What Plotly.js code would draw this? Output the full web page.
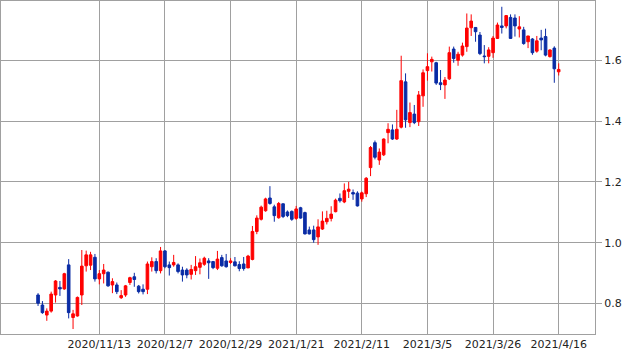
<!DOCTYPE html>
<html>
<head>
<meta charset="utf-8">
<script src="https://cdn.plot.ly/plotly-3.0.1.min.js"></script>
<style>html,body{margin:0;padding:0;background:#fff;}#chart{width:636px;height:355px;}</style>
</head>
<body>
<div id="chart"></div>
<script>
var dates = [
"2020/10/26","2020/10/27","2020/10/28","2020/10/29","2020/10/30",
"2020/11/2","2020/11/3","2020/11/4","2020/11/5","2020/11/6",
"2020/11/9","2020/11/10","2020/11/11","2020/11/12","2020/11/13",
"2020/11/16","2020/11/17","2020/11/18","2020/11/19","2020/11/20",
"2020/11/23","2020/11/24","2020/11/25","2020/11/27","2020/11/30",
"2020/12/1","2020/12/2","2020/12/3","2020/12/4","2020/12/7",
"2020/12/8","2020/12/9","2020/12/10","2020/12/11","2020/12/14",
"2020/12/15","2020/12/16","2020/12/17","2020/12/18","2020/12/21",
"2020/12/22","2020/12/23","2020/12/24","2020/12/28","2020/12/29",
"2020/12/30","2020/12/31","2021/1/4","2021/1/5","2021/1/6",
"2021/1/7","2021/1/8","2021/1/11","2021/1/12","2021/1/13",
"2021/1/14","2021/1/15","2021/1/19","2021/1/20","2021/1/21",
"2021/1/22","2021/1/25","2021/1/26","2021/1/27","2021/1/28",
"2021/1/29","2021/2/1","2021/2/2","2021/2/3","2021/2/4",
"2021/2/5","2021/2/8","2021/2/9","2021/2/10","2021/2/11",
"2021/2/12","2021/2/16","2021/2/17","2021/2/18","2021/2/19",
"2021/2/22","2021/2/23","2021/2/24","2021/2/25","2021/2/26",
"2021/3/1","2021/3/2","2021/3/3","2021/3/4","2021/3/5",
"2021/3/8","2021/3/9","2021/3/10","2021/3/11","2021/3/12",
"2021/3/15","2021/3/16","2021/3/17","2021/3/18","2021/3/19",
"2021/3/22","2021/3/23","2021/3/24","2021/3/25","2021/3/26",
"2021/3/29","2021/3/30","2021/3/31","2021/4/1","2021/4/2",
"2021/4/5","2021/4/6","2021/4/7","2021/4/8","2021/4/9",
"2021/4/12","2021/4/13","2021/4/14","2021/4/15","2021/4/16"
];
var openV = [
0.828,0.795,0.762,0.775,0.828, 0.853,0.848,0.927,0.754,0.759,
0.828,0.924,0.926,0.952,0.881, 0.898,0.903,0.861,0.861,0.819,
0.828,0.869,0.888,0.857,0.847, 0.847,0.921,0.938,0.908,0.973,
0.927,0.927,0.927,0.910,0.910, 0.896,0.908,0.919,0.929,0.940,
0.938,0.916,0.951,0.940,0.935, 0.937,0.928,0.930,0.917,0.945,
1.037,1.077,1.105,1.147,1.118, 1.082,1.128,1.101,1.103,1.080,
1.115,1.099,1.042,1.042,1.019, 1.045,1.069,1.080,1.102,1.146,
1.134,1.169,1.165,1.163,1.144, 1.161,1.247,1.329,1.272,1.289,
1.362,1.371,1.341,1.380,1.529, 1.395,1.423,1.398,1.483,1.566,
1.595,1.592,1.526,1.519,1.539, 1.637,1.600,1.617,1.645,1.707,
1.708,1.683,1.614,1.613,1.625, 1.672,1.713,1.713,1.741,1.739,
1.703,1.700,1.661,1.670,1.630, 1.673,1.678,1.612,1.640,1.562
];
var highV = [
0.834,0.808,0.784,0.839,0.877, 0.874,0.901,0.946,0.779,0.823,
0.976,0.974,0.970,0.963,0.910, 0.930,0.905,0.883,0.869,0.844,
0.861,0.888,0.901,0.861,0.863, 0.938,0.952,0.949,0.986,0.976,
0.938,0.960,0.932,0.921,0.916, 0.927,0.956,0.948,0.954,0.949,
0.940,0.973,0.960,0.963,0.949, 0.953,0.939,0.953,0.960,1.055,
1.090,1.122,1.148,1.186,1.125, 1.134,1.129,1.106,1.106,1.121,
1.118,1.102,1.053,1.056,1.077, 1.103,1.105,1.120,1.145,1.162,
1.195,1.200,1.175,1.169,1.168, 1.216,1.318,1.336,1.310,1.343,
1.393,1.389,1.437,1.615,1.557, 1.461,1.453,1.499,1.570,1.623,
1.612,1.595,1.568,1.545,1.645, 1.645,1.628,1.658,1.754,1.751,
1.709,1.693,1.650,1.643,1.680, 1.724,1.776,1.749,1.751,1.751,
1.745,1.710,1.680,1.673,1.680, 1.700,1.704,1.636,1.646,1.590
];
var lowV = [
0.792,0.766,0.743,0.770,0.803, 0.825,0.845,0.751,0.716,0.757,
0.795,0.905,0.910,0.872,0.863, 0.866,0.855,0.834,0.831,0.815,
0.822,0.861,0.855,0.833,0.830, 0.831,0.905,0.899,0.899,0.916,
0.892,0.921,0.899,0.872,0.883, 0.879,0.894,0.896,0.924,0.881,
0.913,0.910,0.921,0.918,0.930, 0.922,0.906,0.908,0.917,0.942,
1.028,1.073,1.102,1.125,1.069, 1.079,1.081,1.084,1.072,1.075,
1.079,1.027,1.027,1.000,0.993, 1.042,1.060,1.070,1.100,1.132,
1.130,1.147,1.141,1.119,1.135, 1.150,1.219,1.274,1.256,1.285,
1.327,1.338,1.338,1.376,1.378, 1.380,1.390,1.384,1.447,1.533,
1.563,1.519,1.502,1.473,1.535, 1.592,1.582,1.612,1.628,1.680,
1.661,1.617,1.590,1.590,1.608, 1.670,1.688,1.705,1.670,1.678,
1.675,1.651,1.640,1.618,1.625, 1.633,1.613,1.609,1.526,1.550
];
var closeV = [
0.801,0.770,0.775,0.831,0.874, 0.848,0.898,0.770,0.766,0.820,
0.923,0.960,0.960,0.881,0.898, 0.910,0.858,0.872,0.839,0.826,
0.858,0.885,0.879,0.839,0.839, 0.930,0.938,0.908,0.973,0.921,
0.918,0.935,0.905,0.894,0.894, 0.912,0.921,0.934,0.949,0.934,
0.918,0.946,0.924,0.921,0.940, 0.924,0.915,0.915,0.956,1.037,
1.081,1.117,1.144,1.129,1.089, 1.129,1.086,1.089,1.077,1.111,
1.081,1.029,1.029,1.010,1.052, 1.071,1.080,1.094,1.140,1.138,
1.171,1.176,1.160,1.121,1.164, 1.212,1.313,1.281,1.298,1.341,
1.373,1.341,1.373,1.533,1.404, 1.428,1.395,1.486,1.559,1.579,
1.603,1.525,1.520,1.535,1.625, 1.606,1.620,1.647,1.706,1.729,
1.694,1.622,1.612,1.634,1.673, 1.716,1.708,1.747,1.672,1.713,
1.710,1.655,1.680,1.625,1.664, 1.667,1.617,1.634,1.572,1.570
];
var tickDates = ["2020/11/13","2020/12/7","2020/12/29","2021/1/21","2021/2/11","2021/3/5","2021/3/26","2021/4/16"];
var yTicks = [0.8, 1.0, 1.2, 1.4, 1.6];

var upColor = '#ff0000';
var downColor = '#0a2ca5';
var gridColor = '#a0a0a0';

var trace = {
  type: 'candlestick',
  x: dates,
  open: openV, high: highV, low: lowV, close: closeV,
  increasing: {line: {color: upColor, width: 1}, fillcolor: upColor},
  decreasing: {line: {color: downColor, width: 1}, fillcolor: downColor},
  whiskerwidth: 0,
  hoverinfo: 'none',
  showlegend: false
};

var layout = {
  width: 636, height: 355,
  margin: {l: 1, r: 41, t: 1, b: 21, pad: 0},
  paper_bgcolor: '#ffffff', plot_bgcolor: '#ffffff',
  showlegend: false,
  boxgap: 0.15,
  font: {family: 'DejaVu Sans, sans-serif', size: 11, color: '#222222'},
  xaxis: {
    type: 'category',
    range: [-8.47, 127.3],
    tickmode: 'array', tickvals: tickDates, ticktext: tickDates,
    ticks: '', showgrid: true, gridcolor: gridColor, gridwidth: 1,
    showline: true, mirror: true, linecolor: gridColor, linewidth: 1,
    zeroline: false, tickangle: 0,
    tickfont: {family: 'DejaVu Sans, sans-serif', size: 11, color: '#222222'},
    rangeslider: {visible: false}, fixedrange: true
  },
  yaxis: {
    side: 'right',
    range: [0.6997, 1.795],
    tickmode: 'array', tickvals: yTicks, tickformat: '.1f',
    ticks: 'outside', ticklen: 6, tickcolor: gridColor, tickwidth: 1,
    showgrid: true, gridcolor: gridColor, gridwidth: 1,
    showline: true, mirror: true, linecolor: gridColor, linewidth: 1,
    zeroline: false,
    tickfont: {family: 'DejaVu Sans, sans-serif', size: 11, color: '#222222'},
    fixedrange: true
  }
};

Plotly.newPlot('chart', [trace], layout, {staticPlot: true, displayModeBar: false});
</script>
</body>
</html>
